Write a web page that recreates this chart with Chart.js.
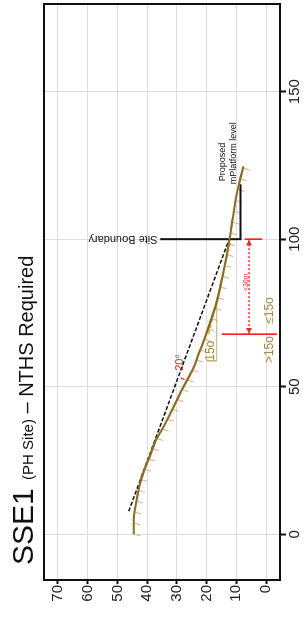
<!DOCTYPE html>
<html>
<head>
<meta charset="utf-8">
<script src="https://cdn.jsdelivr.net/npm/chart.js@4.4.0/dist/chart.umd.min.js"></script>
<style>
  html, body { margin: 0; padding: 0; background: #fff; overflow: hidden; }
  #wrap {
    position: absolute; left: 0; top: 0;
    width: 617px; height: 304px;
    transform-origin: 0 0;
    transform: translateY(617px) rotate(-90deg);
  }
  #title {
    position: absolute; left: 52px; top: 5px;
    font-family: "Liberation Sans", Arial, sans-serif;
    font-size: 30px; line-height: 36px; white-space: nowrap; color: #111;
  }
  #title .s { font-size: 15px; }
  #title .m { font-size: 20px; }
  canvas { position: absolute; left: 0; top: 0; }
</style>
</head>
<body>
<div id="wrap">
  <canvas id="c" width="617" height="304"></canvas>
  <div id="title">SSE1 <span class="s">(PH Site)</span><span class="m"> – NTHS Required</span></div>
</div>
<script>
// ground profile: distance (m) vs elevation (mPD)
const groundDist = [0, 5, 9, 14, 18, 23, 27, 32, 36, 45, 50, 56, 61, 66, 70, 78, 89, 100, 107, 114, 120, 124.7];
const groundElev = [44.5, 44.5, 44.0, 43.1, 42.2, 40.5, 38.9, 37.0, 34.7, 30.2, 27.8, 24.6, 22.7, 20.8, 19.4, 16.8, 14.3, 12.3, 11.2, 10.1, 8.8, 7.6];

// 20 degree line
const slopeDist = [7.8, 100];
const slopeElev = [46.2, 12.4];

// 15 degree line
const cutDist = [67.8, 99.5];
const cutElev = [19.3, 11.8];

// site boundary + proposed platform
const boundaryDist = [100, 100, 118.6];
const boundaryElev = [35.6, 8.6, 8.6];

// red dimension
const dimTopDist = [100, 100];
const dimTopElev = [7.1, 1.3];
const dimBotDist = [67.8, 67.8];
const dimBotElev = [14.8, -3.7];
const dimDist = [67.8, 100];
const dimElev = [5.7, 5.7];
const arrowDist = [69.3, 98.5];
const arrowElev = [5.7, 5.7];
const angleDist = [53, 52.4];
const angleElev = [28.7, 27.4];

// 15 degree bracket
const bracketDist = [58.8, 58.8, 79];
const bracketElev = [19.9, 16.6, 16.6];

const distTicks = [0, 50, 100, 150];
const elevTicks = [0, 10, 20, 30, 40, 50, 60, 70];

const pts = (xs, ys) => xs.map((x, i) => ({ x: x, y: ys[i] }));

const RED = '#ff1f1f';
const BROWN = '#8e6b1f';
const OLIVE = '#a38b3a';

const notes = [
  { text: 'Site Boundary', x: 100, y: 36.5, font: '11px "Liberation Sans", Arial', color: '#111', rot: -90, base: 'middle' },
  { text: 'Proposed', x: 119.6, y: 13.8, font: '9px "Liberation Sans", Arial', color: '#111' },
  { text: 'mPlatform level', x: 118.6, y: 10.1, font: '9px "Liberation Sans", Arial', color: '#111' },
  { text: '>15o', x: 58, y: -2.4, font: '12px "Liberation Sans", Arial', color: OLIVE },
  { text: '≤15o', x: 71.3, y: -2.4, font: '12px "Liberation Sans", Arial', color: OLIVE },
  { text: '15o', x: 58.8, y: 17.5, font: '12px "Liberation Sans", Arial', color: OLIVE },
  { text: '20°', x: 55.4, y: 27.9, font: '11px "Liberation Sans", Arial', color: RED },
  { text: '<30m', x: 82.4, y: 5.9, font: '7px "Liberation Sans", Arial', color: RED }
];

const framePlugin = {
  id: 'frame',
  afterDraw(chart) {
    const a = chart.chartArea, ctx = chart.ctx;
    ctx.save();
    ctx.strokeStyle = '#111';
    ctx.lineWidth = 2;
    ctx.strokeRect(a.left, a.top, a.right - a.left, a.bottom - a.top);
    ctx.restore();
  }
};

const hatchPlugin = {
  id: 'hatch',
  beforeDatasetsDraw(chart) {
    const sx = chart.scales.x, sy = chart.scales.y, ctx = chart.ctx;
    const p = groundDist.map((d, i) => [sx.getPixelForValue(d), sy.getPixelForValue(groundElev[i])]);
    ctx.save();
    ctx.strokeStyle = '#d2c296';
    ctx.lineWidth = 1.2;
    let next = 0, walked = 0;
    for (let i = 1; i < p.length; i++) {
      const dx = p[i][0] - p[i - 1][0], dy = p[i][1] - p[i - 1][1];
      const len = Math.hypot(dx, dy);
      while (next <= walked + len) {
        const t = (next - walked) / len;
        const x = p[i - 1][0] + dx * t, y = p[i - 1][1] + dy * t;
        ctx.beginPath();
        ctx.moveTo(x, y + 1);
        ctx.lineTo(x - 1.5, y + 6.5);
        ctx.stroke();
        next += 11;
      }
      walked += len;
    }
    ctx.restore();
  }
};

const notePlugin = {
  id: 'notes',
  afterDatasetsDraw(chart) {
    const sx = chart.scales.x, sy = chart.scales.y, ctx = chart.ctx;
    notes.forEach(n => {
      ctx.save();
      ctx.translate(sx.getPixelForValue(n.x), sy.getPixelForValue(n.y));
      if (n.rot) ctx.rotate(n.rot * Math.PI / 180);
      ctx.font = n.font;
      ctx.fillStyle = n.color;
      ctx.textAlign = 'left';
      ctx.textBaseline = n.base || 'alphabetic';
      ctx.fillText(n.text, 0, 0);
      ctx.restore();
    });
  }
};

const line = (data, color, width, dash, extra) => Object.assign({
  data: data, showLine: true, borderColor: color, borderWidth: width,
  borderDash: dash || [], pointRadius: 0, fill: false
}, extra || {});

new Chart(document.getElementById('c'), {
  type: 'scatter',
  data: {
    datasets: [
      line(pts(groundDist, groundElev), BROWN, 2.2, null, { cubicInterpolationMode: 'monotone' }),
      line(pts(slopeDist, slopeElev), '#111', 1.5, [4, 2]),
      line(pts(cutDist, cutElev), '#d4b24a', 1.5, [4, 2]),
      line(pts(boundaryDist, boundaryElev), '#111', 2),
      line(pts(dimTopDist, dimTopElev), RED, 1),
      line(pts(dimBotDist, dimBotElev), RED, 1),
      line(pts(dimDist, dimElev), RED, 1.5, [2, 2]),
      line(pts(angleDist, angleElev), RED, 1.2),
      line(pts(bracketDist, bracketElev), '#c8b070', 1),
      {
        data: pts(arrowDist, arrowElev), showLine: false,
        pointStyle: 'triangle', pointRadius: 3.5, pointRotation: [270, 90],
        backgroundColor: RED, borderColor: RED, borderWidth: 0
      }
    ]
  },
  options: {
    responsive: false,
    devicePixelRatio: 1,
    animation: false,
    layout: { padding: { top: 44, right: 2, left: 0, bottom: 0 } },
    plugins: { legend: { display: false }, tooltip: { enabled: false }, title: { display: false } },
    scales: {
      x: {
        type: 'linear', position: 'bottom', min: -15.5, max: 179.7,
        afterBuildTicks: s => { s.ticks = distTicks.map(v => ({ value: v })); },
        afterFit: s => { s.height = 24; },
        grid: { color: '#dedede', lineWidth: 1, tickColor: '#111', tickWidth: 2, tickLength: 6 },
        border: { display: false },
        ticks: { padding: 0, color: '#222', maxRotation: 0, font: { family: '"Liberation Sans", Arial', size: 15 } }
      },
      y: {
        type: 'linear', position: 'left', min: -4.7, max: 74.7,
        afterBuildTicks: s => { s.ticks = elevTicks.map(v => ({ value: v })); },
        afterFit: s => { s.width = 37; },
        grid: { color: '#dedede', lineWidth: 1, tickColor: '#111', tickWidth: 2, tickLength: 4 },
        border: { display: false },
        ticks: { padding: 1, color: '#222', font: { family: '"Liberation Sans", Arial', size: 15 } }
      }
    }
  },
  plugins: [hatchPlugin, notePlugin, framePlugin]
});
</script>
</body>
</html>
